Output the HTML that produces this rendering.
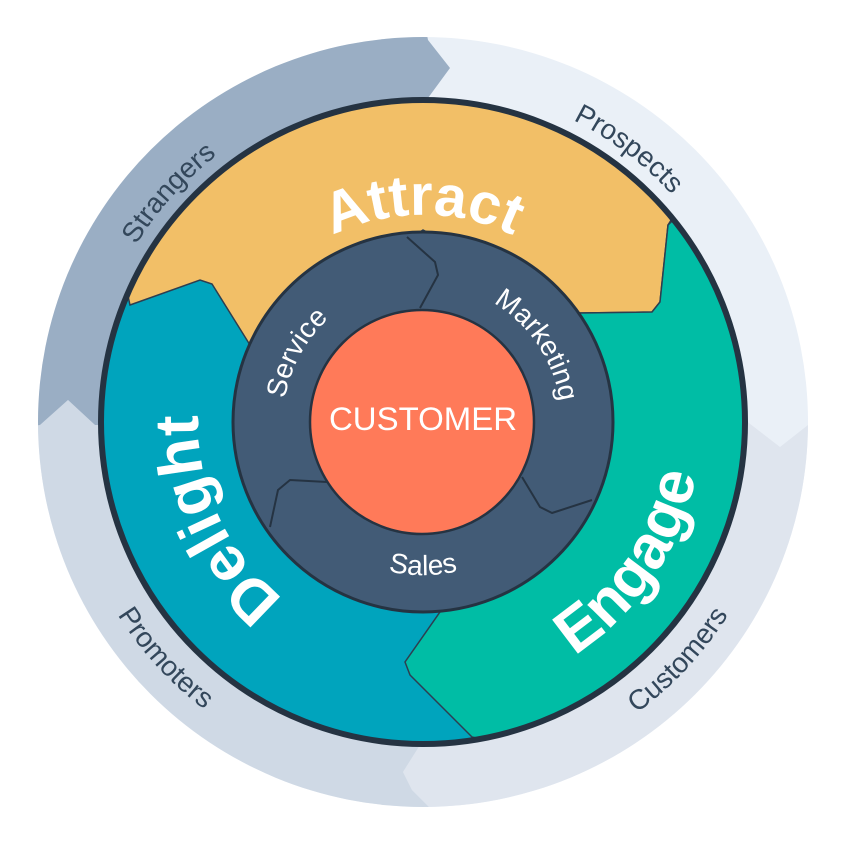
<!DOCTYPE html>
<html><head><meta charset="utf-8"><style>html,body{margin:0;padding:0;background:#fff}svg{display:block}</style></head>
<body>
<svg width="845" height="845" viewBox="0 0 845 845" xmlns="http://www.w3.org/2000/svg" font-family="Liberation Sans, sans-serif">
<defs>
<clipPath id="outer"><circle cx="423" cy="422" r="385"/></clipPath>
<clipPath id="main"><circle cx="423" cy="422" r="320"/></clipPath>
<path id="pAttract" d="M219.1,386.1 A207,207 0 0 1 626.9,386.1"/>
<path id="pDelight" d="M481.2,639.3 A225,225 0 0 1 293.9,237.7"/>
<path id="pEngage" d="M309.9,676 A278,278 0 0 0 616.1,222"/>
<path id="pSales" d="M272.3,448.6 A153,153 0 0 0 573.7,448.6"/>
<path id="pService" d="M335.7,531.4 A140,140 0 0 1 467.7,289.3"/>
<path id="pMarketing" d="M366.9,295.9 A138,138 0 0 1 518.9,521.3"/>
<path id="pStrangers" d="M157.4,629.5 A337,337 0 0 1 601.6,136.2"/>
<path id="pProspects" d="M193.2,175.5 A337,337 0 0 1 723.3,575"/>
<path id="pCustomers" d="M226.4,724.8 A361,361 0 0 0 711.3,204.7"/>
<path id="pPromoters" d="M136.6,202.2 A361,361 0 0 0 617,726.5"/>
</defs>

<g clip-path="url(#outer)">
<rect x="0" y="0" width="845" height="845" fill="#eaf0f7"/>
<polygon fill="#dfe5ee" points="423,422 745,420 780,447 808,425 845,425 845,845 430,845 430,808 412,790 403,772 420,745"/>
<polygon fill="#cfd9e5" points="423,422 420,745 403,772 412,790 430,808 430,845 0,845 0,425 40,425 68,400 95,425"/>
<polygon fill="#9aaec4" points="423,422 95,425 68,400 40,425 0,430 0,0 420,0 428,40 450,68 428,98"/>
</g>

<circle cx="423" cy="422" r="320" fill="#00a4bd"/>
<g clip-path="url(#main)">
<polygon fill="#f2bf67" stroke="#2d3e50" stroke-width="1.5" points="130,305 200,280 212,284 250,345 423,230 580,313 652,312 660,302 668,225 760,80 80,80"/>
<polygon fill="#00bda5" stroke="#2d3e50" stroke-width="1.5" points="668,225 660,302 652,312 580,313 600,420 540,500 440,612 405,662 410,675 472,737 820,820 820,80"/>
</g>
<circle cx="423" cy="422" r="322" fill="none" stroke="#253342" stroke-width="6"/>

<circle cx="423" cy="422" r="190" fill="#425b76" stroke="#253342" stroke-width="3"/>
<g fill="none" stroke="#253342" stroke-width="2" stroke-linejoin="round">
<polyline points="407,237 435,262 438,275 420,308"/>
<polyline points="522,477 540,507 552,513 592,500"/>
<polyline points="327,482 290,480 278,490 270,527"/>
</g>
<circle cx="422" cy="422" r="112" fill="#ff7a59" stroke="#253342" stroke-width="2.5"/>
<text x="423" y="430" fill="#fff" font-size="32" text-anchor="middle" textLength="188" lengthAdjust="spacingAndGlyphs">CUSTOMER</text>

<g fill="#fff" font-weight="bold">
<text font-size="58"><textPath href="#pAttract" startOffset="50%" text-anchor="middle">Attract</textPath></text>
<text font-size="62"><textPath href="#pDelight" startOffset="50%" text-anchor="middle">Delight</textPath></text>
<text font-size="62"><textPath href="#pEngage" startOffset="50%" text-anchor="middle">Engage</textPath></text>
</g>
<g fill="#fff" font-size="28">
<text><textPath href="#pSales" startOffset="50%" text-anchor="middle">Sales</textPath></text>
<text><textPath href="#pService" startOffset="50%" text-anchor="middle">Service</textPath></text>
<text><textPath href="#pMarketing" startOffset="50%" text-anchor="middle">Marketing</textPath></text>
</g>
<g fill="#33475b" font-size="28">
<text><textPath href="#pStrangers" startOffset="50%" text-anchor="middle">Strangers</textPath></text>
<text><textPath href="#pProspects" startOffset="50%" text-anchor="middle">Prospects</textPath></text>
<text><textPath href="#pCustomers" startOffset="50%" text-anchor="middle">Customers</textPath></text>
<text><textPath href="#pPromoters" startOffset="50%" text-anchor="middle">Promoters</textPath></text>
</g>
</svg>
</body></html>
